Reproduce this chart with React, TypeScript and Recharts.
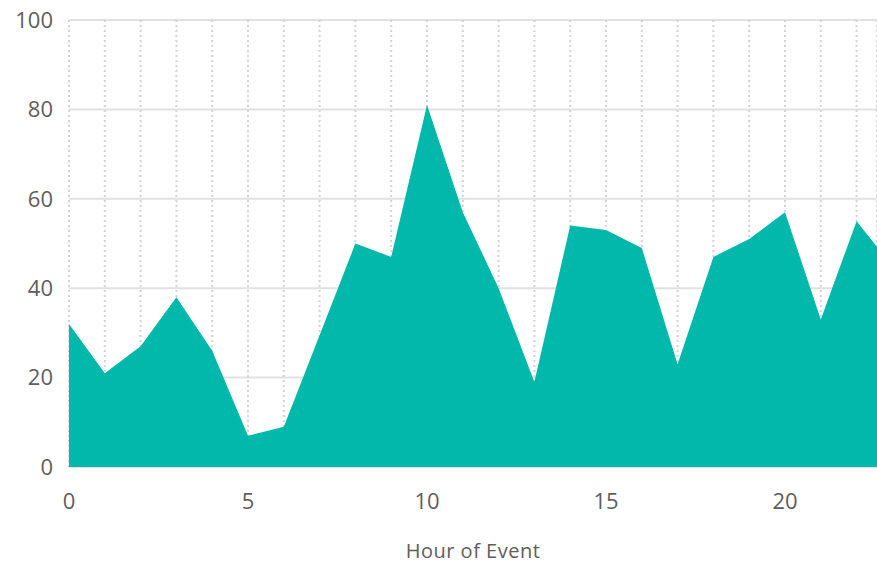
import React from 'react';
import { AreaChart, Area, XAxis, YAxis, CartesianGrid } from 'recharts';

const HOURS = [0, 1, 2, 3, 4, 5, 6, 7, 8, 9, 10, 11, 12, 13, 14, 15, 16, 17, 18, 19, 20, 21, 22, 23];
const COUNTS = [32, 21, 27, 38, 26, 7, 9, 29.5, 50, 47, 81, 57, 40, 19, 54, 53, 49, 23, 47, 51, 57, 33, 55, 45];
const Y_TICKS = [0, 20, 40, 60, 80, 100];
const X_LABELS = [0, 5, 10, 15, 20];

const data = HOURS.map((h, i) => ({ hour: h, count: COUNTS[i] }));

const FONT = '"Open Sans", "Noto Sans", sans-serif';

export default function App() {
  return (
    <div style={{ position: 'absolute', left: 0, top: 0, fontFamily: FONT }}>
      <AreaChart width={877} height={564} data={data} margin={{ top: 20, right: 0, bottom: 0, left: 0 }}>
        <CartesianGrid horizontal={true} vertical={false} stroke="#e1e1e1" strokeWidth={2} />
        <CartesianGrid horizontal={false} vertical={true} stroke="#d4d4d4" strokeWidth={2} strokeDasharray="2 3" />
        <XAxis
          dataKey="hour"
          type="number"
          domain={[0, 22.57]}
          allowDataOverflow
          ticks={HOURS}
          interval={0}
          tickFormatter={(v: number) => (X_LABELS.includes(v) ? String(v) : '')}
          axisLine={false}
          tickLine={false}
          tickSize={0}
          tickMargin={26}
          height={97}
          tick={{ fill: '#605e5c', fontSize: 22, fontFamily: FONT }}
          label={{ value: 'Hour of Event', position: 'insideBottom', offset: 6, fill: '#605e5c', fontSize: 20, fontFamily: FONT, letterSpacing: 0.5 }}
        />
        <YAxis
          domain={[0, 100]}
          ticks={Y_TICKS}
          axisLine={false}
          tickLine={false}
          tickSize={0}
          tickMargin={16}
          width={69}
          tick={{ fill: '#605e5c', fontSize: 22, fontFamily: FONT }}
        />
        <Area
          type="linear"
          dataKey="count"
          stroke="none"
          fill="#01b8aa"
          fillOpacity={1}
          isAnimationActive={false}
        />
      </AreaChart>
    </div>
  );
}
